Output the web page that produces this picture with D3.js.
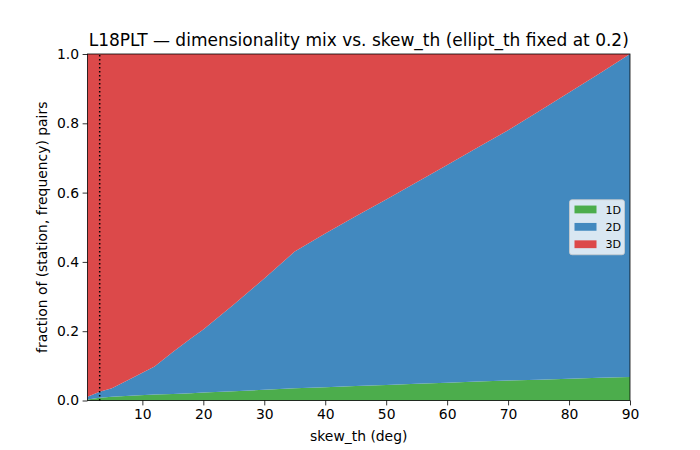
<!DOCTYPE html>
<html>
<head>
<meta charset="utf-8">
<script src="https://cdn.jsdelivr.net/npm/d3@7"></script>
<style>
  body { margin: 0; background: #fff; }
  svg { font-family: "DejaVu Sans", sans-serif; }
</style>
</head>
<body>
<div id="chart"></div>
<script>
const width = 700;
const height = 450;
const margin = { top: 54, right: 70, bottom: 49.5, left: 87.5 };

// skew threshold (deg) and fraction of pairs in each class
const skew = [1, 3, 5, 8, 12, 15, 18, 20, 25, 30, 35, 40, 45, 50, 55, 60, 65, 70, 75, 80, 85, 90];
const frac1D = [0.003, 0.008, 0.011, 0.014, 0.017, 0.019, 0.021, 0.023, 0.027, 0.031, 0.035, 0.038, 0.042, 0.045, 0.048, 0.051, 0.055, 0.058, 0.06, 0.063, 0.066, 0.068];
const frac2D = [0.008, 0.017, 0.024, 0.048, 0.081, 0.121, 0.159, 0.182, 0.25, 0.321, 0.395, 0.444, 0.49, 0.535, 0.582, 0.629, 0.675, 0.722, 0.774, 0.826, 0.878, 0.932];
const frac3D = skew.map((s, i) => 1 - frac1D[i] - frac2D[i]);
const seriesNames = ["1D", "2D", "3D"];
const seriesColors = ["#4cad4c", "#4289bf", "#dc494a"];
const xTicks = [10, 20, 30, 40, 50, 60, 70, 80, 90];
const yTicks = [0, 0.2, 0.4, 0.6, 0.8, 1.0];
const ellipticMarker = 3;   // chosen skew_th

const rows = skew.map((s, i) => ({ skew: s, "1D": frac1D[i], "2D": frac2D[i], "3D": frac3D[i] }));

const svg = d3.select("#chart").append("svg").attr("width", width).attr("height", height);

const x = d3.scaleLinear().domain([1, 90]).range([margin.left, width - margin.right]);
const y = d3.scaleLinear().domain([0, 1]).range([height - margin.bottom, margin.top]);

const stack = d3.stack().keys(seriesNames);
const layers = stack(rows);

const area = d3.area()
    .x(d => x(d.data.skew))
    .y0(d => y(d[0]))
    .y1(d => y(d[1]));

svg.append("g").selectAll("path")
    .data(layers)
    .enter()
    .append("path")
    .attr("d", area)
    .attr("fill", (d, i) => seriesColors[i]);

// dotted marker line
svg.append("line")
    .attr("x1", x(ellipticMarker)).attr("x2", x(ellipticMarker))
    .attr("y1", y(0)).attr("y2", y(1))
    .attr("stroke", "#000")
    .attr("stroke-width", 1.5)
    .attr("stroke-dasharray", "1.5,2.5");

// axes
const xAxis = d3.axisBottom(x).tickValues(xTicks).tickSize(4.9).tickPadding(3.5);
const yAxis = d3.axisLeft(y).tickValues(yTicks).tickFormat(d3.format(".1f")).tickSize(4.9).tickPadding(3.5);

svg.append("g")
    .attr("transform", `translate(0,${height - margin.bottom})`)
    .call(xAxis)
    .call(g => g.select(".domain").remove())
    .selectAll("text").attr("font-size", 13.9).attr("font-family", "DejaVu Sans").attr("fill", "#000");

svg.append("g")
    .attr("transform", `translate(${margin.left},0)`)
    .call(yAxis)
    .call(g => g.select(".domain").remove())
    .selectAll("text").attr("font-size", 13.9).attr("font-family", "DejaVu Sans").attr("fill", "#000");

svg.selectAll(".tick line").attr("stroke", "#000").attr("stroke-width", 0.8);

// frame
svg.append("rect")
    .attr("x", margin.left).attr("y", margin.top)
    .attr("width", width - margin.left - margin.right)
    .attr("height", height - margin.top - margin.bottom)
    .attr("fill", "none")
    .attr("stroke", "#000")
    .attr("stroke-width", 0.8);

// labels
svg.append("text")
    .attr("x", (margin.left + width - margin.right) / 2)
    .attr("y", 46)
    .attr("text-anchor", "middle")
    .attr("font-size", 17)
    .text("L18PLT — dimensionality mix vs. skew_th (ellipt_th fixed at 0.2)");

svg.append("text")
    .attr("x", (margin.left + width - margin.right) / 2)
    .attr("y", 441)
    .attr("text-anchor", "middle")
    .attr("font-size", 13.9)
    .text("skew_th (deg)");

svg.append("text")
    .attr("transform", `translate(47,${(margin.top + height - margin.bottom) / 2}) rotate(-90)`)
    .attr("text-anchor", "middle")
    .attr("font-size", 13.9)
    .text("fraction of (station, frequency) pairs");

// legend, center right
const legW = 55, legH = 55;
const legX = width - margin.right - 5.5 - legW;
const legY = (margin.top + height - margin.bottom) / 2 - legH / 2;
const legend = svg.append("g").attr("transform", `translate(${legX},${legY})`);
legend.append("rect")
    .attr("width", legW).attr("height", legH)
    .attr("rx", 2.5)
    .attr("fill", "rgba(255,255,255,0.8)")
    .attr("stroke", "#cccccc")
    .attr("stroke-width", 0.8);
seriesNames.forEach((name, i) => {
    const row = legend.append("g").attr("transform", `translate(5,${5.8 + i * 17.4})`);
    row.append("rect").attr("width", 22).attr("height", 7.8).attr("fill", seriesColors[i]);
    row.append("text").attr("x", 31).attr("y", 8).attr("font-size", 11.1).text(name);
});
</script>
</body>
</html>
